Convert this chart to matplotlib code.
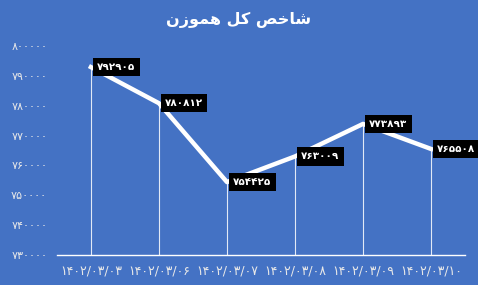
import matplotlib.pyplot as plt

plt.rcParams['font.family'] = ['DejaVu Sans', 'Noto Sans']

dates = ['1402/03/03', '1402/03/06', '1402/03/07', '1402/03/08', '1402/03/09', '1402/03/10']
values = [792905, 780812, 754425, 763009, 773893, 765508]
yticks = [730000, 740000, 750000, 760000, 770000, 780000, 790000, 800000]

# title already in presentation forms, visual order (matplotlib does no arabic shaping)
title = '\uFEE5\uFEAF\uFEEE\uFEE4\uFEEB \uFEDE\uFB90 \uFEBA\uFEA7\uFE8E\uFEB7'


def fa(s):
    return str(s).translate(str.maketrans('0123456789', '۰۱۲۳۴۵۶۷۸۹'))


bg = '#4472c4'
fig = plt.figure(figsize=(4.78, 2.85), dpi=100, facecolor=bg)
ax = fig.add_axes([0.119, 0.105, 0.854, 0.734], facecolor=bg)

x = list(range(len(values)))
ax.vlines(x, 730000, values, color='white', lw=0.8, alpha=0.85)
ax.plot(x, values, color='white', lw=3.2, solid_joinstyle='round')

for xi, v in zip(x, values):
    ax.annotate(fa(v), (xi, v), xytext=(4.5, 0), textcoords='offset points',
                ha='left', va='center', color='white', fontsize=7.5, fontweight='bold',
                bbox=dict(boxstyle='square,pad=0.4', fc='black', ec='none'))

ax.set_xlim(-0.5, 5.5)
ax.set_ylim(730000, 800000)
ax.set_xticks(x)
ax.set_xticklabels([fa(d) for d in dates], color='#e8e8e8', fontsize=9)
ax.set_yticks(yticks)
ax.set_yticklabels([fa(t) for t in yticks], color='#e8e8e8', fontsize=8)
ax.tick_params(length=0, pad=7)

for s in ['top', 'right', 'left']:
    ax.spines[s].set_visible(False)
ax.spines['bottom'].set_color('white')
ax.spines['bottom'].set_linewidth(1)

fig.text(0.5, 0.93, title, ha='center', va='center', color='white',
         fontsize=11.5, fontweight='bold')

fig.savefig('out.png', dpi=100, facecolor=bg)
